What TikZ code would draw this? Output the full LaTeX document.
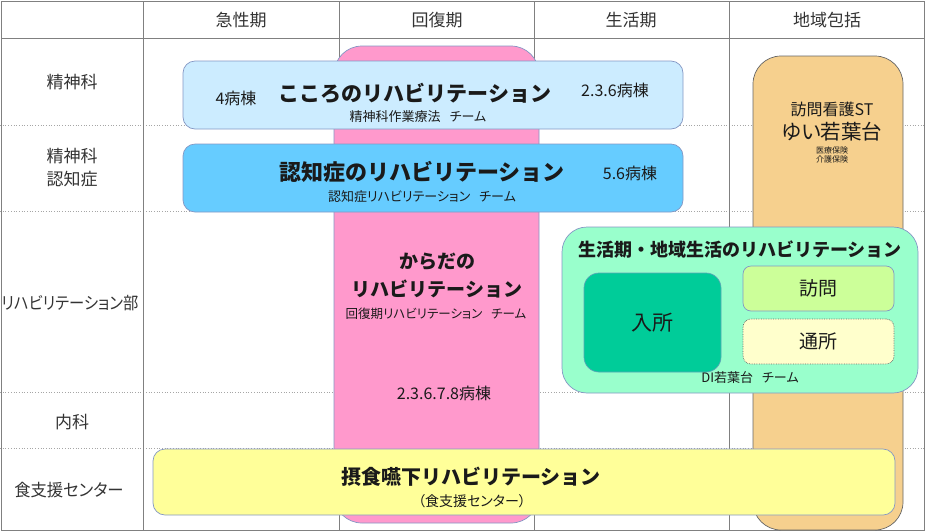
\documentclass[tikz,border=0pt]{standalone}
\usepackage{fontspec}
\setmainfont{Noto Sans CJK JP}
\newfontfamily\jpp{Noto Sans CJK JP}[RawFeature=+palt]
\definecolor{gridc}{HTML}{808080}
\definecolor{dotc}{HTML}{A6A6A6}
\definecolor{edgeb}{HTML}{8497C4}
\definecolor{pinkf}{HTML}{FF99CC}
\definecolor{lbluef}{HTML}{CCECFF}
\definecolor{bluef}{HTML}{66CCFF}
\definecolor{orangef}{HTML}{F6D08E}
\definecolor{greenf}{HTML}{99FFCC}
\definecolor{darkgf}{HTML}{00CC99}
\definecolor{limef}{HTML}{CCFF99}
\definecolor{creamf}{HTML}{FFFFCC}
\definecolor{yellowf}{HTML}{FFFF99}
\definecolor{txt}{HTML}{1A1A1A}
\newcommand{\fs}[1]{\fontsize{#1pt}{#1pt}\selectfont}
\newcommand{\gap}{\hspace{0.7em}}
\tikzset{
  gridline/.style={draw=gridc, line width=0.9pt},
  rowline/.style={draw=dotc, dotted, line width=0.7pt},
  panel/.style={draw=edgeb, line width=0.7pt, inner sep=0pt},
  lbl/.style={text=txt, inner sep=0pt, align=center},
  head/.style={lbl, text=black!80, font=\jpp\fs{17}},
}
\begin{document}
\begin{tikzpicture}[x=1pt,y=-1pt]
\useasboundingbox (0,0) rectangle (926,531);
% grid
\draw[rowline] (0,125) -- (924,125);
\draw[rowline] (0,211) -- (924,211);
\draw[rowline] (0,392) -- (924,392);
\draw[rowline] (0,448) -- (924,448);
\draw[gridline] (1,1) rectangle (924,530);
\draw[gridline] (1,38) -- (924,38);
\foreach \cx in {143,339,534,729} \draw[gridline] (\cx,1) -- (\cx,530);
% headers
\node[head] (h1) at (241,20) {急性期};
\node[head] (h2) at (437,20) {回復期};
\node[head] (h3) at (631,20) {生活期};
\node[head] (h4) at (827,20) {地域包括};
% row labels
\node[head] (r1) at (72,82) {精神科};
\node[head, font={\jpp\fontsize{17pt}{23pt}\selectfont}] (r2) at (72,168) {精神科\\認知症};
\node[head] (r3) at (70,303) {\scalebox{0.9}[1]{リハビリテーション部}};
\node[head] (r4) at (72,422) {内科};
\node[head] (r5) at (69,490) {\scalebox{0.96}[1]{食支援センター}};
% pink (recovery)
\node[panel, fill=pinkf, rounded corners=28pt, minimum width=205pt, minimum height=477pt] (pink) at (436.5,284.5) {};
% orange (community)
\node[panel, draw=black!60, fill=orangef, rounded corners=28pt, minimum width=150pt, minimum height=474pt] (orange) at (828,293) {};
\node[lbl, font=\jpp\fs{16}] (o1) at (832,109) {訪問看護ST};
\node[lbl, font=\jpp\fs{20.5}] (o2) at (832,132) {ゆい若葉台};
\node[lbl, font=\jpp\fs{8}] (o3) at (832,150) {医療保険};
\node[lbl, font=\jpp\fs{8}] (o4) at (832,159) {介護保険};
% kokoro
\node[panel, fill=lbluef, rounded corners=12pt, minimum width=500pt, minimum height=68pt] (kokoro) at (433,95) {};
\node[lbl, font=\jpp\fs{16}] (k0) at (236,98) {4病棟};
\node[lbl, font=\fs{21}\bfseries] (k1) at (415,93) {こころのリハビリテーション};
\node[lbl, font=\jpp\fs{13}] (k2) at (418,117) {精神科作業療法\gap チーム};
\node[lbl, font=\jpp\fs{16}] (k3) at (615,90) {2.3.6病棟};
% ninchi
\node[panel, fill=bluef, rounded corners=12pt, minimum width=500pt, minimum height=68pt] (ninchi) at (433,178) {};
\node[lbl, font=\fs{22}\bfseries] (n1) at (422,172) {認知症のリハビリテーション};
\node[lbl, font=\jpp\fs{13}] (n2) at (422,197) {認知症リハビリテーション\gap チーム};
\node[lbl, font=\jpp\fs{16}] (n3) at (630,173) {5.6病棟};
% karada texts
\node[lbl, font=\fs{19}\bfseries] (c1) at (437,262) {からだの};
\node[lbl, font=\fs{19}\bfseries] (c2) at (437,289) {リハビリテーション};
\node[lbl, font=\jpp\fs{12.5}] (c3) at (436,314) {回復期リハビリテーション\gap チーム};
\node[lbl, font=\jpp\fs{16}] (c4) at (444,393) {2.3.6.7.8病棟};
% life stage
\node[panel, fill=greenf, rounded corners=25pt, minimum width=356pt, minimum height=166pt] (green) at (740,310) {};
\node[lbl, font=\fs{18}\bfseries] (g1) at (740,250) {生活期・地域生活のリハビリテーション};
\node[panel, draw=edgeb!70!darkgf, fill=darkgf, rounded corners=15pt, minimum width=137pt, minimum height=99pt, text=txt, font=\jpp\fs{21}] (nyusho) at (652.5,322.5) {入所};
\node[panel, fill=limef, rounded corners=8pt, minimum width=151pt, minimum height=45pt, text=txt, font=\jpp\fs{19}] (houmon) at (818.5,288.5) {訪問};
\node[panel, draw=black!60, densely dotted, fill=creamf, rounded corners=8pt, minimum width=151pt, minimum height=45pt, text=txt, font=\jpp\fs{19}] (tsusho) at (818.5,341.5) {通所};
\node[lbl, font=\jpp\fs{13}] (g2) at (750,378) {DI若葉台\gap チーム};
% swallowing
\node[panel, fill=yellowf, rounded corners=12pt, minimum width=742pt, minimum height=66pt] (yellow) at (524,482) {};
\node[lbl, font=\fs{20}\bfseries] (y1) at (471,477) {摂食嚥下リハビリテーション};
\node[lbl, font=\jpp\fs{14}] (y2) at (472,501) {（食支援センター）};
\end{tikzpicture}
\end{document}
